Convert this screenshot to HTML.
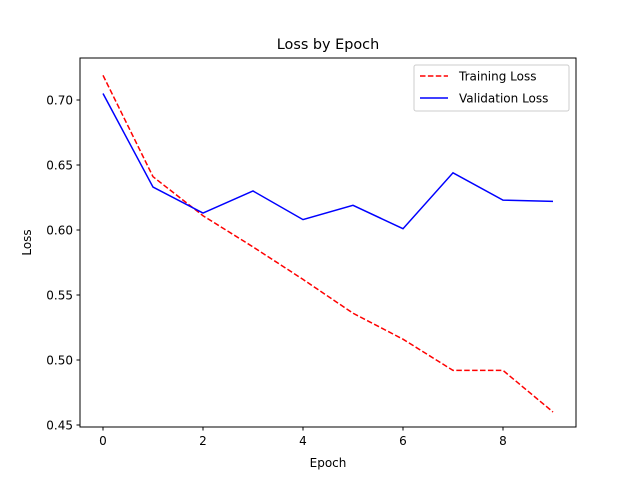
<!DOCTYPE html>
<html><head><meta charset="utf-8"><style>body{margin:0;background:#fff}svg{font-family:"DejaVu Sans","Liberation Sans",sans-serif}</style></head>
<body>
<svg id="c" width="640" height="480" xmlns="http://www.w3.org/2000/svg">
<rect width="640" height="480" fill="#fff"/>
<text x="328" y="49" font-size="14.4" text-anchor="middle">Loss by Epoch</text>
<g id="g"></g>
<rect x="80" y="58" width="496" height="369" fill="none" stroke="#000" stroke-width="1"/>
<text x="328" y="467" font-size="12" text-anchor="middle">Epoch</text>
<text transform="translate(31,242.5) rotate(-90)" font-size="12" text-anchor="middle">Loss</text>
<g>
<rect x="414" y="65" width="155" height="46" fill="#fff" stroke="#ccc" rx="2"/>
<line x1="420" y1="76" x2="448" y2="76" stroke="red" stroke-width="1.5" stroke-dasharray="5.5,2.4"/>
<text x="459" y="80.5" font-size="12">Training Loss</text>
<line x1="420" y1="98" x2="448" y2="98" stroke="blue" stroke-width="1.5"/>
<text x="459" y="102.5" font-size="12">Validation Loss</text>
</g>
</svg>
<script>
const epochs=[0,1,2,3,4,5,6,7,8,9];
const trainLoss=[0.719,0.641,0.611,0.587,0.562,0.536,0.516,0.492,0.492,0.460];
const valLoss=[0.705,0.633,0.613,0.630,0.608,0.619,0.601,0.644,0.623,0.622];
const xTicks=[0,2,4,6,8];
const yTicks=[0.45,0.50,0.55,0.60,0.65,0.70];
const NS="http://www.w3.org/2000/svg";
const X=v=>103+v*50;
const Y=v=>100-(v-0.70)*1300;
const g=document.getElementById('g');
function mk(t,a){const e=document.createElementNS(NS,t);for(const k in a)e.setAttribute(k,a[k]);g.appendChild(e);return e;}
xTicks.forEach(v=>{
 const l=mk('line',{x1:X(v),x2:X(v),y1:427,y2:430.5,stroke:'#000'});
 
 
 const t=mk('text',{x:X(v),y:445,'font-size':12,'text-anchor':'middle'});t.textContent=v;
 
 
});
yTicks.forEach(v=>{
 const l=mk('line',{x1:76.5,x2:80,y1:Y(v),y2:Y(v),stroke:'#000'});
 
 
 const t=mk('text',{x:73,y:Y(v)+4.5,'font-size':12,'text-anchor':'end'});t.textContent=v.toFixed(2);
 
 
});
const p1=mk('polyline',{points:epochs.map((e,i)=>X(e)+','+Y(trainLoss[i])).join(' '),fill:'none',stroke:'red','stroke-width':1.5,'stroke-dasharray':'5.5,2.4'});


const p2=mk('polyline',{points:epochs.map((e,i)=>X(e)+','+Y(valLoss[i])).join(' '),fill:'none',stroke:'blue','stroke-width':1.5});


</script>
</body></html>
